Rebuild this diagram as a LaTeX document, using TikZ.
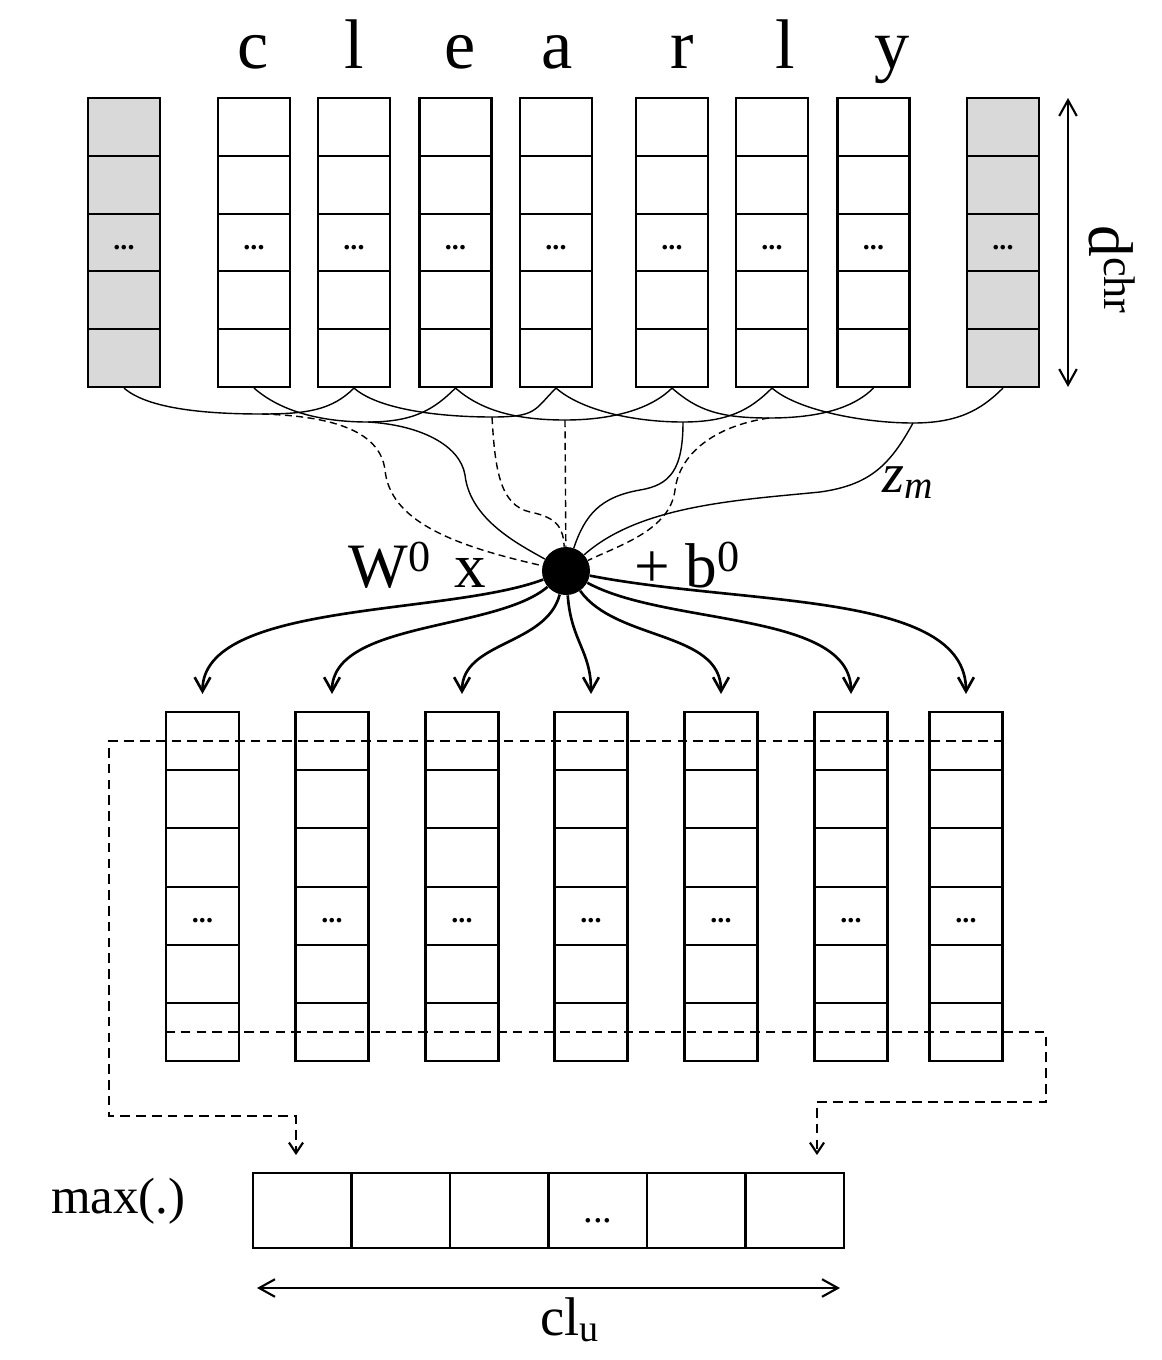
\documentclass[tikz,border=0pt]{standalone}
\usepackage{fontspec}
\setmainfont{Liberation Serif}
\usetikzlibrary{arrows.meta}
\newcommand{\celldots}{\textbf{...}\rule{0pt}{8pt}}
\tikzstyle{cell} = [draw, line width = 1.2pt, minimum width = 1.44cm, minimum height = 1.156cm, inner sep = 0pt, font = \fontsize{16}{16}\selectfont]
\tikzstyle{fcell} = [cell, minimum width = 1.46cm, minimum height = 1.164cm]
\tikzstyle{poolcell} = [draw, line width = 1.2pt, minimum width = 1.97cm, minimum height = 1.5cm, inner sep = 0pt]
\tikzstyle{wire} = [line width = 0.8pt]
\tikzstyle{dwire} = [wire, dash pattern = on 4pt off 2.5pt]
\tikzstyle{fanout} = [line width = 1.5pt, -{Straight Barb[length = 8pt, width = 9pt]}, shorten >= 0.34cm]
\tikzstyle{poolline} = [line width = 1.2pt, dash pattern = on 5.5pt off 3.5pt, -{Straight Barb[length = 6pt, width = 8pt]}, shorten >= 0.36cm]
\tikzstyle{extent} = [line width = 1.2pt, {Straight Barb[length = 9pt, width = 10pt]}-{Straight Barb[length = 9pt, width = 10pt]}]
\tikzstyle{big} = [font = \fontsize{36}{36}\selectfont]

\begin{document}
\begin{tikzpicture}[x = 0.02cm, y = -0.02cm]
    \useasboundingbox (0, 0) rectangle (1162, 1360);
    % characters and their embeddings
    \foreach \glyph/\x in {c/253, l/354, e/460, a/557, r/682, l/785, y/892}
        \node (ch\x) at (\x, 68) [anchor = base, font = \fontsize{40}{40}\selectfont] {\glyph};
    \foreach \i/\x/\shade in {0/124/black!15, 1/254/white, 2/354/white, 3/455.5/white, 4/556/white, 5/672/white, 6/772/white, 7/873.5/white, 8/1003/black!15}
        \foreach \k/\txt in {1/{}, 2/{}, 3/\celldots, 4/{}, 5/{}}
            \node (t\i-\k) at (\x, 69.1 + 57.8*\k) [cell, fill = \shade] {\txt};
    \coordinate (dtop) at (1068, 98);
    \coordinate (dbot) at (1068, 387);
    \draw [extent] (dtop) -- (dbot);
    \node (dchr) at (1112, 270) [big, rotate = -90] {d\textsuperscript{chr}};
    % filter
    \node (f) at (566, 571) [circle, fill, inner sep = 0pt, minimum size = 0.96cm] {};
    \node (wlbl) at (492, 587) [big, anchor = base east] {W\textsuperscript{0}\hspace{13pt}x};
    \node (blbl) at (628, 587) [big, anchor = base west] {+ b\textsuperscript{0}};
    \coordinate (j1) at (262, 414);
    \coordinate (j2) at (368, 422);
    \coordinate (j3) at (492, 417);
    \coordinate (j4) at (565, 420);
    \coordinate (j5) at (683, 422);
    \coordinate (j6) at (769, 418);
    \coordinate (j7) at (913, 423);
    \foreach \a/\j/\b in {0/1/2, 1/2/3, 2/3/4, 3/4/5, 4/5/6, 5/6/7, 6/7/8}
        \draw [wire] (t\a-5.south) .. controls +(25, 22) and +(-50, 0) .. (j\j) .. controls +(45, 0) and +(-22, 22) .. (t\b-5.south);
    \draw [dwire] (j1) .. controls (330, 416) and (380, 430) .. (385, 470) .. controls (390, 520) and (450, 545) .. (f);
    \draw [wire] (j2) .. controls (420, 425) and (460, 445) .. (465, 475) .. controls (470, 520) and (520, 545) .. (f);
    \draw [dwire] (j3) .. controls (495, 470) and (500, 505) .. (530, 512) .. controls (560, 518) and (563, 530) .. (f);
    \draw [dwire] (j4) -- (f);
    \draw [wire] (j5) .. controls (683, 470) and (670, 485) .. (640, 490) .. controls (600, 497) and (585, 515) .. (f);
    \draw [dwire] (j6) .. controls (720, 425) and (680, 450) .. (675, 490) .. controls (670, 530) and (620, 545) .. (f);
    \draw [wire] (j7) .. controls (890, 465) and (870, 485) .. (820, 492) .. controls (740, 500) and (640, 505) .. (f);
    \node (zm) at (876, 492) [anchor = base west, font = \fontsize{32}{32}\selectfont] {\textit{z}\textsubscript{\textit{m}}};
    % feature maps
    \foreach \i/\x in {1/202.5, 2/332, 3/462, 4/591, 5/721, 6/851, 7/966}
        \foreach \k/\txt in {1/{}, 2/{}, 3/{}, 4/\celldots, 5/{}, 6/{}}
            \node (b\i-\k) at (\x, 682.9 + 58.2*\k) [fcell] {\txt};
    \draw [fanout] (f) .. controls +(-120, 45) and +(0, -110) .. (b1-1.north);
    \draw [fanout] (f) .. controls +(-70, 60) and +(0, -90) .. (b2-1.north);
    \draw [fanout] (f) .. controls +(-20, 75) and +(0, -70) .. (b3-1.north);
    \draw [fanout] (f) .. controls +(5, 70) and +(0, -60) .. (b4-1.north);
    \draw [fanout] (f) .. controls +(50, 70) and +(0, -80) .. (b5-1.north);
    \draw [fanout] (f) .. controls +(100, 55) and +(0, -100) .. (b6-1.north);
    \draw [fanout] (f) .. controls +(180, 35) and +(0, -120) .. (b7-1.north);
    % max pooling
    \foreach \k in {1, ..., 6}
        \node (m\k) at (203.75 + 98.5*\k, 1210.5) [poolcell] {};
    \node (mdots) at (598, 1222) [anchor = base, font = \fontsize{22}{22}\selectfont] {...};
    \node (maxlbl) at (45, 1213) [anchor = base west, font = \fontsize{29}{29}\selectfont] {max(.)};
    \coordinate (lft) at (109, 1116);
    \coordinate (rgt) at (1046, 1102);
    \coordinate (inL) at (296, 1173);
    \coordinate (inR) at (817, 1173);
    \draw [poolline] (b7-1.east) -| (lft) -| (inL);
    \draw [poolline] (b1-6.west) -| (rgt) -| (inR);
    \coordinate (cl1) at (257, 1288);
    \coordinate (cl2) at (840, 1288);
    \draw [extent] (cl1) -- (cl2);
    \node (cllbl) at (570, 1335) [anchor = base, font = \fontsize{31}{31}\selectfont] {cl\textsubscript{u}};
\end{tikzpicture}
\end{document}
